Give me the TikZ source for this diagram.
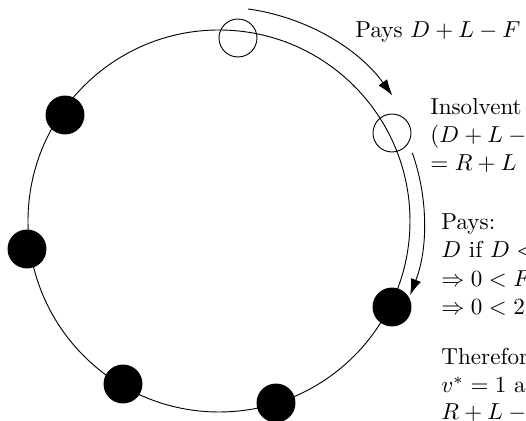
\documentclass[tikz,border=0pt]{standalone}
\usetikzlibrary{arrows.meta}
\begin{document}
\begin{tikzpicture}[x=0.4329pt,y=0.4329pt,
  agent/.style={circle,draw,minimum size=16.45pt,inner sep=0pt},
  filledagent/.style={agent,fill=black},
  flow/.style={-{Latex[length=7pt,width=4.6pt]}},
  lbl/.style={anchor=base west,inner sep=0pt}]
\useasboundingbox (-219,-200) rectangle (307,221);
\clip (-219,-200) rectangle (307,221);
\draw (0,0) circle[radius=191];
\node[agent] (a) at (19,183) {};
\node[agent] (b) at (173,88) {};
\node[filledagent] (c) at (173,-86) {};
\node[filledagent] (d) at (57,-182) {};
\node[filledagent] (e) at (-96,-163) {};
\node[filledagent] (f) at (-192,-28) {};
\node[filledagent] (g) at (-154,106) {};
\draw[flow] (82.2:214) arc[start angle=82.2,end angle=35.9,radius=214];
\draw[flow] (19.4:205) arc[start angle=19.4,end angle=-21.2,radius=205];
\node[lbl] (t1) at (136,183.5) {Pays $D+L-F$};
\node[lbl] (t2) at (211,106) {Insolvent};
\node[lbl] (t3) at (211,78) {$(D+L-{}$};
\node[lbl] (t4) at (211,50) {$=R+L$};
\node[lbl] (t5) at (222,-8.5) {Pays:};
\node[lbl] (t6) at (222,-37) {$D$ if $D<$};
\node[lbl] (t7) at (222,-65.5) {$\Rightarrow 0<F$};
\node[lbl] (t8) at (222,-94) {$\Rightarrow 0<2$};
\node[lbl] (t9) at (222,-144) {Therefor};
\node[lbl] (t10) at (222,-171.5) {$v^*=1$ a};
\node[lbl] (t11) at (222,-199) {$R+L-{}$};
\end{tikzpicture}
\end{document}
